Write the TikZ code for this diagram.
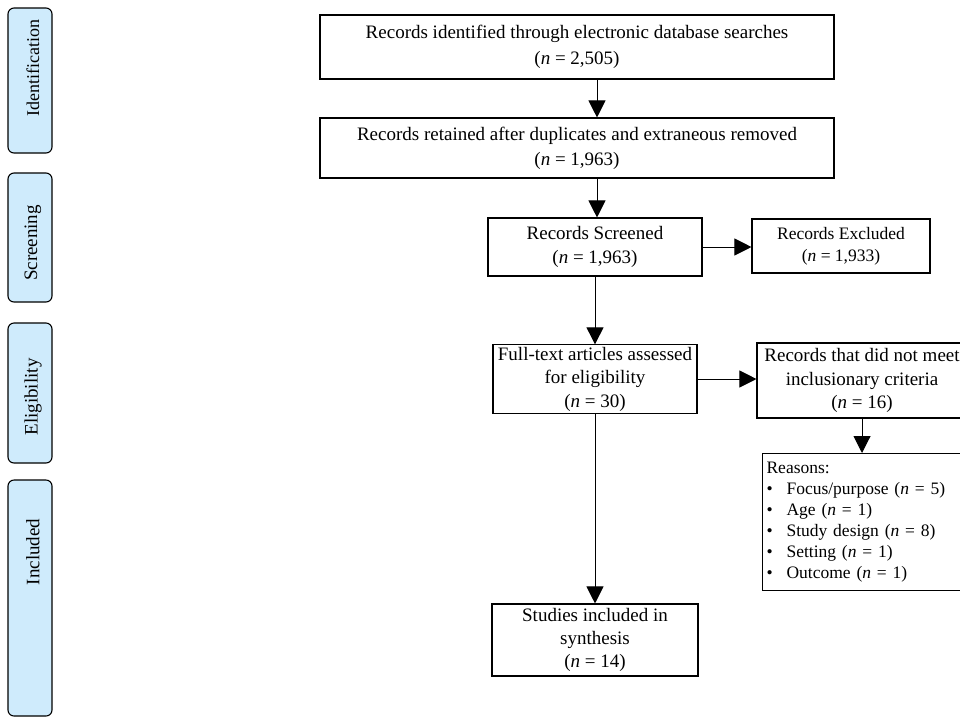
\documentclass[tikz,border=0pt]{standalone}
\usepackage{fontspec}
\setmainfont{Liberation Serif}
\usetikzlibrary{arrows.meta}
\definecolor{stagefill}{RGB}{207,235,252}
\tikzset{
  box/.style={draw, line width=1.1pt, inner sep=2pt, align=center, font=\fontsize{19}{23.5}\selectfont},
  stage/.style={draw, line width=1.1pt, rounded corners=6pt, fill=stagefill},
  stagetext/.style={rotate=90, font=\fontsize{19}{22}\selectfont},
  arr/.style={line width=1pt, -{Triangle[width=17pt,length=17pt]}}
}
\newcommand{\nn}{\textit{n}}
\begin{document}
\begin{tikzpicture}[x=1pt,y=-1pt]
\useasboundingbox (0,0) rectangle (960,716);
\clip (0,0) rectangle (960,716);
% stage labels
\node[stage, minimum width=44pt, minimum height=145pt] (sid) at (30,80.5) {};
\node[stagetext, font=\fontsize{18}{20}\selectfont] (tid) at (33,68) {Identification};
\node[stage, minimum width=44pt, minimum height=129pt] (ssc) at (30,237.5) {};
\node[stagetext] (tsc) at (33,243) {Screening};
\node[stage, minimum width=44pt, minimum height=140pt] (sel) at (30,393) {};
\node[stagetext] (tel) at (33,397) {Eligibility};
\node[stage, minimum width=44pt, minimum height=236pt] (sin) at (30,598) {};
\node[stagetext] (tin) at (33,552) {Included};
% boxes
\node[box, minimum width=514pt, minimum height=64pt, font=\fontsize{19}{26}\selectfont] (b1) at (577,47)
  {Records identified through electronic database searches\\(\nn{} = 2,505)};
\node[box, minimum width=514pt, minimum height=60pt, font=\fontsize{19}{25}\selectfont] (b2) at (577,148)
  {Records retained after duplicates and extraneous removed\\(\nn{} = 1,963)};
\node[box, minimum width=214pt, minimum height=58pt, font=\fontsize{19}{24}\selectfont] (b3) at (595,247)
  {Records Screened\\(\nn{} = 1,963)};
\node[box, minimum width=178pt, minimum height=54pt, font=\fontsize{17.5}{22}\selectfont] (ex) at (841,246)
  {Records Excluded\\(\nn{} = 1,933)};
\node[box, minimum width=204pt, minimum height=68pt] (ft) at (595,379)
  {Full-text articles assessed\\for eligibility\\(\nn{} = 30)};
\node[box, minimum width=210pt, minimum height=75pt] (nm) at (862,380.5)
  {Records that did not meet\\inclusionary criteria\\(\nn{} = 16)};
\node[box, anchor=north west, minimum width=220pt, minimum height=137pt, align=left,
  text width=212pt, inner sep=1pt, font=\fontsize{17.5}{21}\selectfont] (rs) at (762,453)
  {Reasons:\\
   \makebox[20pt][l]{\textbullet}Focus/purpose (\nn{} = 5)\\
   \makebox[20pt][l]{\textbullet}Age (\nn{} = 1)\\
   \makebox[20pt][l]{\textbullet}Study design (\nn{} = 8)\\
   \makebox[20pt][l]{\textbullet}Setting (\nn{} = 1)\\
   \makebox[20pt][l]{\textbullet}Outcome (\nn{} = 1)};
\node[box, minimum width=206pt, minimum height=72pt, font=\fontsize{19}{23}\selectfont] (st) at (595,640)
  {Studies included in\\synthesis\\(\nn{} = 14)};
% arrows
\coordinate (a1) at (597,0);
\draw[arr] (b1.south -| a1) -- (b2.north -| a1);
\draw[arr] (b2.south -| a1) -- (b3.north -| a1);
\draw[arr] (b3.south) -- (ft.north);
\draw[arr] (b3.east) -- (ex.west |- b3.east);
\draw[arr] (ft.east) -- (nm.west |- ft.east);
\draw[arr] (nm.south) -- (nm.south |- rs.north);
\draw[arr] (ft.south) -- (st.north);
\end{tikzpicture}
\end{document}
